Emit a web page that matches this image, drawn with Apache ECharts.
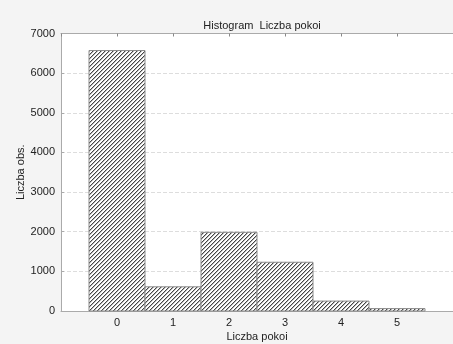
<!DOCTYPE html>
<html>
<head>
<meta charset="utf-8">
<script src="https://cdn.jsdelivr.net/npm/echarts@6/dist/echarts.min.js"></script>
<style>
  html, body { margin: 0; padding: 0; background: #f4f4f4; }
  #chart { width: 453px; height: 344px; }
</style>
</head>
<body>
<div id="chart"></div>
<script>
// dane histogramu
const binValues = [0, 1, 2, 3, 4, 5];
const counts = [6570, 610, 1985, 1230, 250, 60];
const yMax = 7000;
const yStep = 1000;

// wzór kreskowania (piksel po pikselu, okres 4 px)
function hatch() {
    const c = document.createElement('canvas');
    c.width = 4; c.height = 4;
    const ctx = c.getContext('2d');
    ctx.fillStyle = '#ffffff';
    ctx.fillRect(0, 0, 4, 4);
    for (let i = 0; i < 4; i++) {
        ctx.fillStyle = '#444444';
        ctx.fillRect(i, 3 - i, 1, 1);
        ctx.fillStyle = '#b8b8b8';
        ctx.fillRect(i, (4 - i) % 4, 1, 1);
    }
    return c;
}

const chart = echarts.init(document.getElementById('chart'));
const font = 'Liberation Sans, Arial, sans-serif';
const hideEdge = v => (v < 0 || v > 5) ? '' : String(v);
const pattern = hatch();

chart.setOption({
    backgroundColor: '#f4f4f4',
    animation: false,
    title: {
        text: 'Histogram  Liczba pokoi',
        left: 257, top: 15, textAlign: 'center',
        textStyle: { fontFamily: font, fontSize: 11, fontWeight: 'normal', color: '#222' }
    },
    grid: {
        left: 61, right: 0, top: 33.5, bottom: 33,
        outerBoundsMode: 'none', containLabel: false,
        show: true, backgroundColor: '#ffffff', borderWidth: 0
    },
    xAxis: [{
        type: 'value', min: -1, max: 6, interval: 1,
        name: 'Liczba pokoi', nameLocation: 'middle', nameGap: 20, nameMoveOverlap: false,
        nameTextStyle: { fontFamily: font, fontSize: 11, color: '#222' },
        axisLine: { onZero: false, lineStyle: { color: '#aaaaaa' } },
        axisTick: { show: false },
        splitLine: { show: false },
        axisLabel: { formatter: hideEdge, fontFamily: font, fontSize: 11, color: '#222', margin: 6 }
    }, {
        type: 'value', position: 'top', min: -1, max: 6, interval: 1,
        axisLine: { show: true, onZero: false, lineStyle: { color: '#aaaaaa' } },
        axisTick: { show: true, inside: true, length: 3, lineStyle: { color: '#888' } },
        axisLabel: { show: false },
        splitLine: { show: false }
    }],
    yAxis: {
        type: 'value', min: 0, max: yMax, interval: yStep,
        name: 'Liczba obs.', nameLocation: 'middle', nameGap: 35, nameMoveOverlap: false,
        nameTextStyle: { fontFamily: font, fontSize: 11, color: '#222' },
        axisLine: { show: true, onZero: false, lineStyle: { color: '#aaaaaa' } },
        axisTick: { show: true, inside: true, length: 3, lineStyle: { color: '#aaaaaa' } },
        axisLabel: { formatter: v => String(v), fontFamily: font, fontSize: 11, color: '#222', margin: 6 },
        splitLine: { show: true, lineStyle: { color: '#dddddd', type: 'dashed' } }
    },
    series: [{
        type: 'custom',
        data: binValues.map((b, i) => [b, counts[i]]),
        renderItem: (params, api) => {
            const x = api.value(0), y = api.value(1);
            const p1 = api.coord([x - 0.5, y]);
            const p2 = api.coord([x + 0.5, 0]);
            return {
                type: 'rect',
                shape: { x: p1[0], y: p1[1], width: p2[0] - p1[0], height: p2[1] - p1[1] },
                style: { fill: { image: pattern, repeat: 'repeat' }, stroke: '#8a8a8a', lineWidth: 1 }
            };
        }
    }]
});
</script>
</body>
</html>
